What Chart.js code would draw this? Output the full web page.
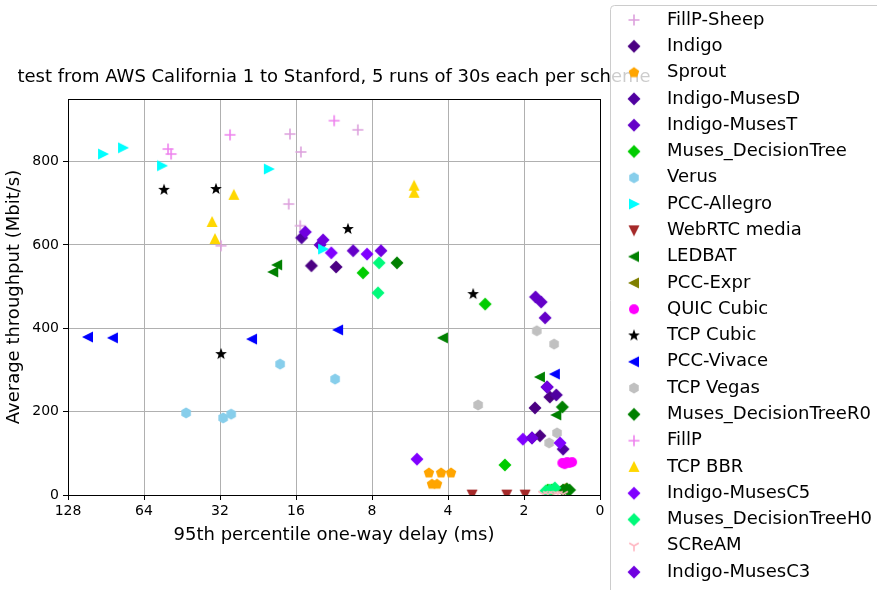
<!DOCTYPE html>
<html>
<head>
<meta charset="utf-8">
<script src="https://cdn.jsdelivr.net/npm/chart.js@4"></script>
<style>
html, body { margin: 0; padding: 0; background: #fff; }
</style>
</head>
<body>
<canvas id="graficoAtraso" width="877" height="590"></canvas>
<script>
// eixo x: atraso (ms), eixo y: vazao (Mbit/s)
const xTickValues = [128, 64, 32, 16, 8, 4, 2, 1];
const xTickLabels = ["128", "64", "32", "16", "8", "4", "2", "0"];
const yTickValues = [0, 200, 400, 600, 800];

const fillpSheepX = [16.9, 15.3, 9.1, 17.1, 15.4, 31.7];
const fillpSheepY = [866, 823, 876, 698, 646, 598];
const indigoX = [13.9, 11.1, 1.58, 1.81, 1.73];
const indigoY = [550, 547, 235, 209, 142];
const sproutX = [4.76, 4.26, 3.89, 4.63, 4.42];
const sproutY = [53, 53, 53, 26, 26];
const musesDX = [1.49, 1.86, 1.40, 15.2, 1.62];
const musesDY = [240, 137, 110, 617, 259];
const musesTX = [1.80, 1.71, 1.65, 12.85, 9.5];
const musesTY = [475, 463, 425, 600, 586];
const decTreeX = [8.68, 2.85, 2.38, 1.61, 1.55];
const decTreeY = [533, 458, 72, 12, 12];
const verusX = [18.5, 11.2, 43.6, 31.1, 28.9];
const verusY = [314, 278, 197, 185, 194];
const allegroX = [93.0, 77.5, 54.3, 20.5, 12.5];
const allegroY = [818, 833, 790, 782, 590];
const webrtcX = [3.21, 2.34, 1.98];
const webrtcY = [1, 1, 1];
const ledbatX = [19.0, 19.7, 4.19, 1.73, 1.49];
const ledbatY = [552, 535, 377, 283, 192];
const exprX = [1.41, 1.44];
const exprY = [17, 12];
const quicX = [1.41, 1.35, 1.29, 1.38, 1.32];
const quicY = [77, 79, 79, 74, 77];
const cubicX = [53.3, 33.2, 31.7, 9.96, 3.18];
const cubicY = [732, 734, 338, 638, 482];
const vivaceX = [106.7, 85.0, 23.9, 10.9, 1.51];
const vivaceY = [379, 377, 374, 396, 290];
const vegasX = [1.78, 1.52, 3.04, 1.48, 1.59];
const vegasY = [394, 362, 216, 149, 125];
const decTreeR0X = [6.37, 1.41, 1.35, 1.40, 1.32];
const decTreeR0Y = [557, 211, 14, 12, 12];
const fillpX = [51.4, 50.0, 29.2, 11.3];
const fillpY = [830, 818, 864, 898];
const bbrX = [28.2, 34.4, 33.5, 5.45, 5.45];
const bbrY = [720, 655, 614, 742, 725];
const musesC5X = [11.6, 8.37, 2.02, 1.44, 5.31];
const musesC5Y = [581, 578, 134, 125, 86];
const decTreeH0X = [7.5, 7.57, 1.58, 1.51, 1.64];
const decTreeH0Y = [557, 485, 12, 17, 10];
const screamX = [1.68, 1.61, 1.53, 1.47, 1.40];
const screamY = [2, 2, 2, 2, 2];
const musesC3X = [14.7, 12.5, 7.37, 1.86, 1.62];
const musesC3Y = [631, 612, 586, 137, 259];

const esquemas = [
    ["FillP-Sheep", fillpSheepX, fillpSheepY, "+", "#dda0dd"],
    ["Indigo", indigoX, indigoY, "D", "#4b0082"],
    ["Sprout", sproutX, sproutY, "p", "#ffa500"],
    ["Indigo-MusesD", musesDX, musesDY, "D", "#5000a0"],
    ["Indigo-MusesT", musesTX, musesTY, "D", "#6400c8"],
    ["Muses_DecisionTree", decTreeX, decTreeY, "D", "#00cc00"],
    ["Verus", verusX, verusY, "h", "#87ceeb"],
    ["PCC-Allegro", allegroX, allegroY, ">", "#00ffff"],
    ["WebRTC media", webrtcX, webrtcY, "v", "#a52a2a"],
    ["LEDBAT", ledbatX, ledbatY, "<", "#008000"],
    ["PCC-Expr", exprX, exprY, "<", "#808000"],
    ["QUIC Cubic", quicX, quicY, "o", "#ff00ff"],
    ["TCP Cubic", cubicX, cubicY, "*", "#000000"],
    ["PCC-Vivace", vivaceX, vivaceY, "<", "#0000ff"],
    ["TCP Vegas", vegasX, vegasY, "h", "#c0c0c0"],
    ["Muses_DecisionTreeR0", decTreeR0X, decTreeR0Y, "D", "#008000"],
    ["FillP", fillpX, fillpY, "+", "#ee82ee"],
    ["TCP BBR", bbrX, bbrY, "^", "#ffd700"],
    ["Indigo-MusesC5", musesC5X, musesC5Y, "D", "#8000ff"],
    ["Muses_DecisionTreeH0", decTreeH0X, decTreeH0Y, "D", "#00fa7a"],
    ["SCReAM", screamX, screamY, "1", "#ffb6c1"],
    ["Indigo-MusesC3", musesC3X, musesC3Y, "D", "#7000e0"]
];

const titulo = "test from AWS California 1 to Stanford, 5 runs of 30s each per scheme";

// marcadores estilo matplotlib desenhados num canvas pequeno
function marcador(forma, cor) {
    const s = 18;
    const c = document.createElement("canvas");
    c.width = s; c.height = s;
    const g = c.getContext("2d");
    g.translate(s / 2, s / 2);
    g.fillStyle = cor; g.strokeStyle = cor;
    const poly = pts => {
        g.beginPath();
        pts.forEach(([x, y], i) => i ? g.lineTo(x, y) : g.moveTo(x, y));
        g.closePath(); g.fill();
    };
    const ngon = (n, r) => {
        const p = [];
        for (let i = 0; i < n; i++) {
            const a = i * 2 * Math.PI / n;
            p.push([r * Math.sin(a), -r * Math.cos(a)]);
        }
        return p;
    };
    switch (forma) {
        case "D": poly([[0, -6.5], [6.5, 0], [0, 6.5], [-6.5, 0]]); break;
        case "^": poly([[0, -6], [5.5, 5], [-5.5, 5]]); break;
        case "v": poly([[0, 6], [5.5, -5], [-5.5, -5]]); break;
        case ">": poly([[6, 0], [-5, -5.5], [-5, 5.5]]); break;
        case "<": poly([[-6, 0], [5, -5.5], [5, 5.5]]); break;
        case "p": poly(ngon(5, 5.5)); break;
        case "h": poly(ngon(6, 5.5)); break;
        case "o": g.beginPath(); g.arc(0, 0, 5, 0, 2 * Math.PI); g.fill(); break;
        case "*": {
            const p = [];
            for (let i = 0; i < 10; i++) {
                const r = i % 2 ? 2.6 : 6.2, a = i * Math.PI / 5;
                p.push([r * Math.sin(a), -r * Math.cos(a)]);
            }
            poly(p); break;
        }
        case "+":
            g.lineWidth = 1.6; g.beginPath();
            g.moveTo(-5.5, 0); g.lineTo(5.5, 0); g.moveTo(0, -5.5); g.lineTo(0, 5.5);
            g.stroke(); break;
        case "1":
            g.lineWidth = 1.6; g.beginPath();
            g.moveTo(0, 0); g.lineTo(0, 5.5);
            g.moveTo(0, 0); g.lineTo(-4.8, -2.8);
            g.moveTo(0, 0); g.lineTo(4.8, -2.8);
            g.stroke(); break;
    }
    return c;
}

const imagens = esquemas.map(e => marcador(e[3], e[4]));

const conjuntos = esquemas.map((e, i) => ({
    label: e[0],
    data: e[1].map((x, k) => ({ x: x, y: e[2][k] })),
    pointStyle: imagens[i],
    pointRadius: 6,
    backgroundColor: e[4],
    borderColor: e[4],
    showLine: false,
    clip: 0,
    order: esquemas.length - i
}));

const molduraLegenda = {
    id: "molduraLegenda",
    afterDraw(chart) {
        const { ctx, chartArea: a } = chart;
        ctx.save();
        ctx.strokeStyle = "#000";
        ctx.lineWidth = 1;
        ctx.strokeRect(a.left + 0.5, a.top + 0.5, a.right - a.left, a.bottom - a.top);

        ctx.fillStyle = "#000";
        ctx.font = '18px "DejaVu Sans"';
        ctx.textAlign = "center";
        ctx.textBaseline = "middle";
        ctx.fillText(titulo, (a.left + a.right) / 2, 77);

        // legenda fora do grafico, semi-transparente
        ctx.beginPath();
        ctx.roundRect(610.5, 5.5, 290, 610, 4);
        ctx.fillStyle = "rgba(255,255,255,0.8)";
        ctx.fill();
        ctx.strokeStyle = "#cccccc";
        ctx.stroke();

        ctx.textAlign = "left";
        ctx.fillStyle = "#000";
        esquemas.forEach((e, i) => {
            const y = 20 + i * 26.29;
            const img = imagens[i];
            ctx.drawImage(img, 634 - img.width / 2, y - img.height / 2);
            ctx.fillText(e[0], 667, y);
        });
        ctx.restore();
    }
};

const fonteTick = { family: "DejaVu Sans", size: 14 };
const fonteTitulo = { family: "DejaVu Sans", size: 18 };

new Chart(document.getElementById("graficoAtraso"), {
    type: "scatter",
    data: { datasets: conjuntos },
    options: {
        responsive: false,
        animation: false,
        devicePixelRatio: 1,
        layout: { padding: { top: 99, right: 277, bottom: 35, left: 0 } },
        plugins: {
            legend: { display: false },
            tooltip: { enabled: false }
        },
        scales: {
            x: {
                type: "logarithmic",
                reverse: true,
                min: 1,
                max: 128,
                afterBuildTicks: s => { s.ticks = xTickValues.map(v => ({ value: v })); },
                afterFit: s => { s.height = 60; },
                ticks: {
                    callback: v => xTickLabels[xTickValues.indexOf(v)],
                    color: "#000",
                    font: fonteTick,
                    padding: 3,
                    maxRotation: 0,
                    autoSkip: false
                },
                grid: { color: "#b0b0b0", tickColor: "#000", tickLength: 5 },
                border: { display: false },
                title: {
                    display: true,
                    text: "95th percentile one-way delay (ms)",
                    color: "#000",
                    font: fonteTitulo,
                    padding: { top: 0, bottom: 9 }
                }
            },
            y: {
                min: 0,
                max: 950,
                afterBuildTicks: s => { s.ticks = yTickValues.map(v => ({ value: v })); },
                afterFit: s => { s.width = 68; },
                ticks: { color: "#000", font: fonteTick, padding: 4 },
                grid: { color: "#b0b0b0", tickColor: "#000", tickLength: 5 },
                border: { display: false },
                title: {
                    display: true,
                    text: "Average throughput (Mbit/s)",
                    color: "#000",
                    font: fonteTitulo,
                    padding: { top: 4, bottom: 0 }
                }
            }
        }
    },
    plugins: [molduraLegenda]
});
</script>
</body>
</html>
